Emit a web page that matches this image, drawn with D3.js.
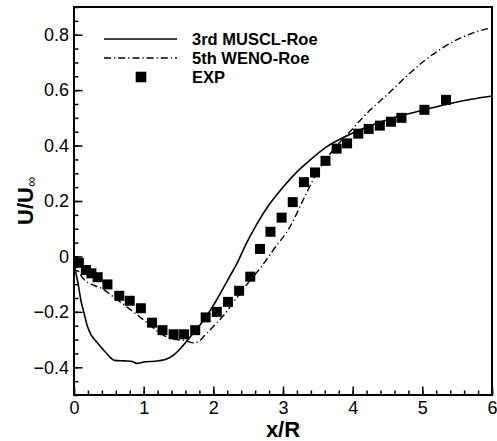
<!DOCTYPE html>
<html>
<head>
<meta charset="utf-8">
<script src="https://cdn.jsdelivr.net/npm/d3@7"></script>
<style>
  html, body { margin: 0; padding: 0; background: #fff; }
  svg { display: block; font-family: "Liberation Sans", Arial, sans-serif; }
</style>
</head>
<body>
<div id="chart"></div>
<script>
// ---------- data ----------
const xTicks = [0, 1, 2, 3, 4, 5, 6];
const yTicks = [-0.4, -0.2, 0, 0.2, 0.4, 0.6, 0.8];

const seriesNames = ["3rd MUSCL-Roe", "5th WENO-Roe", "EXP"];

// 3rd MUSCL-Roe (solid)
const musclX = [0.0, 0.02, 0.06, 0.10, 0.14, 0.19, 0.25, 0.33, 0.45, 0.58, 0.72, 0.82, 0.90, 1.0, 1.15, 1.30, 1.42, 1.55, 1.67, 1.80, 1.93, 2.04, 2.14, 2.24, 2.34, 2.48, 2.62, 2.81, 3.00, 3.20, 3.39, 3.63, 3.89, 4.10, 4.40, 4.73, 5.01, 5.40, 5.70, 6.0];
const musclY = [-0.02, -0.05, -0.10, -0.16, -0.20, -0.25, -0.285, -0.31, -0.345, -0.375, -0.377, -0.378, -0.386, -0.381, -0.378, -0.373, -0.358, -0.326, -0.29, -0.25, -0.205, -0.16, -0.115, -0.07, -0.025, 0.05, 0.115, 0.19, 0.25, 0.305, 0.348, 0.396, 0.432, 0.456, 0.485, 0.510, 0.528, 0.552, 0.567, 0.579];

// 5th WENO-Roe (dash-dot)
const wenoX = [0.0, 0.04, 0.09, 0.15, 0.25, 0.42, 0.56, 0.80, 1.04, 1.28, 1.47, 1.59, 1.72, 1.80, 1.88, 2.05, 2.14, 2.29, 2.50, 2.69, 2.86, 3.10, 3.29, 3.46, 3.72, 3.96, 4.25, 4.54, 4.82, 5.03, 5.40, 5.78, 6.0];
const wenoY = [-0.02, -0.04, -0.065, -0.085, -0.10, -0.119, -0.145, -0.19, -0.237, -0.284, -0.30, -0.303, -0.312, -0.305, -0.284, -0.24, -0.215, -0.165, -0.095, -0.037, 0.023, 0.107, 0.204, 0.29, 0.384, 0.45, 0.528, 0.594, 0.661, 0.706, 0.769, 0.811, 0.825];

// EXP (squares)
const expX = [0.07, 0.17, 0.25, 0.34, 0.48, 0.65, 0.80, 0.96, 1.12, 1.27, 1.43, 1.58, 1.74, 1.89, 2.05, 2.21, 2.37, 2.53, 2.67, 2.82, 2.98, 3.14, 3.30, 3.46, 3.61, 3.77, 3.92, 4.08, 4.23, 4.39, 4.55, 4.70, 5.03, 5.34];
const expY = [-0.023, -0.049, -0.061, -0.075, -0.101, -0.142, -0.160, -0.187, -0.239, -0.266, -0.281, -0.281, -0.266, -0.220, -0.200, -0.164, -0.124, -0.073, 0.027, 0.089, 0.140, 0.196, 0.268, 0.303, 0.345, 0.389, 0.408, 0.443, 0.460, 0.472, 0.486, 0.500, 0.529, 0.565];

const zip = (xs, ys) => xs.map((v, i) => ({ x: v, y: ys[i] }));
const muscl = zip(musclX, musclY);
const weno = zip(wenoX, wenoY);
const exp = zip(expX, expY);

// ---------- layout ----------
const W = 497, H = 441;
const m = { top: 7, right: 5, bottom: 46, left: 74 };
const innerW = W - m.left - m.right;
const innerH = H - m.top - m.bottom;

const svg = d3.select("#chart").append("svg")
  .attr("width", W).attr("height", H);

const g = svg.append("g").attr("transform", `translate(${m.left},${m.top})`);

const x = d3.scaleLinear().domain([0, 6]).range([0, innerW]);
const y = d3.scaleLinear().domain([-0.5, 0.9]).range([innerH, 0]);

// minor ticks (inside)
g.append("g")
  .attr("transform", `translate(0,${innerH})`)
  .call(d3.axisBottom(x).tickValues(d3.range(0, 6.001, 0.2)).tickSize(-4.5).tickFormat(""))
  .call(a => a.select(".domain").remove());
g.append("g")
  .call(d3.axisLeft(y).tickValues(d3.range(-0.5, 0.901, 0.05)).tickSize(-4.5).tickFormat(""))
  .call(a => a.select(".domain").remove());

// major ticks + labels
const xAxis = g.append("g")
  .attr("transform", `translate(0,${innerH})`)
  .call(d3.axisBottom(x).tickValues(xTicks).tickSize(-8.5).tickPadding(6).tickFormat(d3.format("d")))
  .call(a => a.select(".domain").remove());
const yAxis = g.append("g")
  .call(d3.axisLeft(y).tickValues(yTicks).tickSize(-8.5).tickPadding(5).tickFormat(d => d === 0 ? "0" : d3.format(".1f")(d)))
  .call(a => a.select(".domain").remove());

g.selectAll(".tick line").attr("stroke", "#000").attr("stroke-width", 1.5);
[xAxis, yAxis].forEach(a => a.selectAll("text")
  .attr("font-family", "'Liberation Sans', Arial, sans-serif")
  .attr("font-size", 18).attr("fill", "#000"));

// frame
g.append("rect")
  .attr("width", innerW).attr("height", innerH)
  .attr("fill", "none").attr("stroke", "#000").attr("stroke-width", 2);

// lines
const line = d3.line().x(d => x(d.x)).y(d => y(d.y)).curve(d3.curveMonotoneX);

g.append("path").datum(muscl)
  .attr("fill", "none").attr("stroke", "#000").attr("stroke-width", 1.6)
  .attr("d", line);

g.append("path").datum(weno)
  .attr("fill", "none").attr("stroke", "#000").attr("stroke-width", 1.4)
  .attr("stroke-dasharray", "7,3,1.2,3")
  .attr("d", line);

// EXP squares
const S = 10;
g.append("g").attr("fill", "#000")
  .selectAll("rect").data(exp).enter().append("rect")
    .attr("x", d => x(d.x) - S / 2)
    .attr("y", d => y(d.y) - S / 2)
    .attr("width", S).attr("height", S);

// legend
const leg = svg.append("g").attr("font-size", 16.5).attr("font-weight", "bold");
const rows = [39, 58, 77];
leg.append("line").attr("x1", 104).attr("x2", 177).attr("y1", rows[0]).attr("y2", rows[0])
  .attr("stroke", "#000").attr("stroke-width", 1.6);
leg.append("line").attr("x1", 104).attr("x2", 177).attr("y1", rows[1]).attr("y2", rows[1])
  .attr("stroke", "#000").attr("stroke-width", 1.4).attr("stroke-dasharray", "7,3,1.2,3");
leg.append("rect").attr("x", 141 - 5.3).attr("y", rows[2] - 5.3).attr("width", 10.6).attr("height", 10.6);
leg.selectAll("text").data(seriesNames).enter().append("text")
  .attr("x", 192).attr("y", (d, i) => rows[i] + 5.8)
  .text(d => d);

// axis titles
svg.append("text")
  .attr("x", m.left + x(3)).attr("y", 437)
  .attr("text-anchor", "middle").attr("font-size", 22).attr("font-weight", "bold")
  .text("x/R");

const yt = svg.append("text")
  .attr("transform", "rotate(-90)")
  .attr("x", -225).attr("y", 33)
  .attr("font-size", 22).attr("font-weight", "bold");
yt.append("tspan").text("U/U");
yt.append("tspan").attr("font-size", 14).attr("font-weight", "normal").attr("dy", 3).text("∞");
</script>
</body>
</html>
